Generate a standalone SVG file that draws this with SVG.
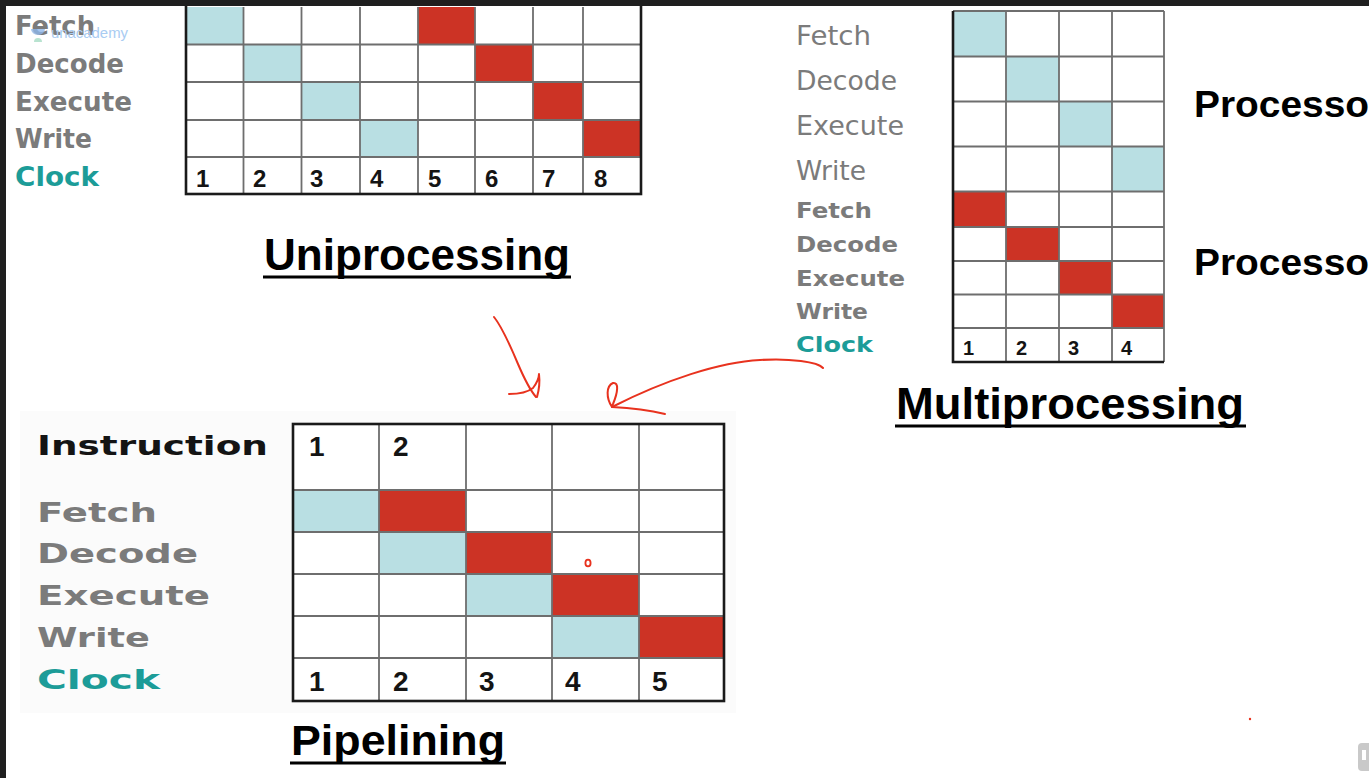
<svg xmlns="http://www.w3.org/2000/svg" width="1369" height="778" viewBox="0 0 1369 778">
<style>
.bg{fill:#ffffff}
.frame{fill:#1f1f1f}
.blue{fill:#b9dfe3}
.red{fill:#cc3325}
.grid{fill:none;stroke:#6e6e6e;stroke-width:1.8}
.border{fill:none;stroke:#1a1a1a;stroke-width:2.6}
.lab{font-family:"DejaVu Sans",Verdana,sans-serif;font-weight:bold;fill:#7b7b7b}
.labr{font-family:"DejaVu Sans",Verdana,sans-serif;font-weight:normal;fill:#7b7b7b}
.clk{fill:#1c9c98}
.blk{fill:#141414}
.num{font-family:"Liberation Sans",Arial,sans-serif;font-weight:bold;fill:#141414}
.title{font-family:"Liberation Sans",Arial,sans-serif;font-weight:bold;fill:#000000}
.ul{stroke:#000000;stroke-width:3}
.ink{fill:none;stroke:#e8321e;stroke-width:2;stroke-linecap:round;stroke-linejoin:round}
</style>
<rect class="bg" x="0" y="0" width="1369" height="778"/>
<rect x="20" y="411" width="716" height="302" fill="#fbfbfb"/>

<g id="uniprocessing">
  <rect class="blue" x="186" y="7" width="57.5" height="37.5"/>
  <rect class="blue" x="243.5" y="44.5" width="58" height="37.5"/>
  <rect class="blue" x="301.5" y="82" width="58.5" height="38"/>
  <rect class="blue" x="360" y="120" width="58" height="37"/>
  <rect class="red" x="418" y="7" width="57" height="37.5"/>
  <rect class="red" x="475" y="44.5" width="58" height="37.5"/>
  <rect class="red" x="533" y="82" width="50" height="38"/>
  <rect class="red" x="583" y="120" width="58" height="37"/>
  <path class="grid" d="M243.5,7V194M301.5,7V194M360,7V194M418,7V194M475,7V194M533,7V194M583,7V194M186,44.5H641M186,82H641M186,120H641M186,157H641"/>
  <rect class="border" x="186" y="4" width="455" height="190"/>
  <text class="lab" x="15" y="35" font-size="26" textLength="80" lengthAdjust="spacingAndGlyphs">Fetch</text>
  <text class="lab" x="15" y="73" font-size="26" textLength="109" lengthAdjust="spacingAndGlyphs">Decode</text>
  <text class="lab" x="15" y="111" font-size="26" textLength="117" lengthAdjust="spacingAndGlyphs">Execute</text>
  <text class="lab" x="15" y="148" font-size="26" textLength="77" lengthAdjust="spacingAndGlyphs">Write</text>
  <text class="lab clk" x="15" y="186" font-size="26" textLength="84" lengthAdjust="spacingAndGlyphs">Clock</text>
  <g class="num" font-size="24">
    <text x="196" y="187">1</text><text x="253" y="187">2</text><text x="310" y="187">3</text><text x="370" y="187">4</text>
    <text x="428" y="187">5</text><text x="485" y="187">6</text><text x="542" y="187">7</text><text x="594" y="187">8</text>
  </g>
  <text class="title" x="264" y="270" font-size="45" textLength="306" lengthAdjust="spacingAndGlyphs">Uniprocessing</text>
  <line class="ul" x1="263" y1="277" x2="571" y2="277"/>
</g>

<g id="multiprocessing">
  <rect class="blue" x="953" y="11" width="53" height="45.5"/>
  <rect class="blue" x="1006" y="56.5" width="53" height="45"/>
  <rect class="blue" x="1059" y="101.5" width="53" height="45"/>
  <rect class="blue" x="1112" y="146.5" width="52" height="45"/>
  <rect class="red" x="953" y="191.5" width="53" height="35.5"/>
  <rect class="red" x="1006" y="227" width="53" height="34"/>
  <rect class="red" x="1059" y="261" width="53" height="33.5"/>
  <rect class="red" x="1112" y="294.5" width="52" height="33.5"/>
  <path class="grid" d="M1006,11V362M1059,11V362M1112,11V362M953,11H1164M953,56.5H1164M953,101.5H1164M953,146.5H1164M953,191.5H1164M953,227H1164M953,261H1164M953,294.5H1164M953,328H1164M1164,11V362"/>
  <path class="border" d="M953,11V362H1164"/>
  <text class="labr" x="796" y="45" font-size="27" textLength="75" lengthAdjust="spacingAndGlyphs">Fetch</text>
  <text class="labr" x="796" y="90" font-size="27" textLength="101" lengthAdjust="spacingAndGlyphs">Decode</text>
  <text class="labr" x="796" y="135" font-size="27" textLength="108" lengthAdjust="spacingAndGlyphs">Execute</text>
  <text class="labr" x="796" y="180" font-size="27" textLength="70" lengthAdjust="spacingAndGlyphs">Write</text>
  <text class="lab" x="796" y="218" font-size="21" textLength="76" lengthAdjust="spacingAndGlyphs">Fetch</text>
  <text class="lab" x="796" y="252" font-size="21" textLength="102" lengthAdjust="spacingAndGlyphs">Decode</text>
  <text class="lab" x="796" y="286" font-size="21" textLength="109" lengthAdjust="spacingAndGlyphs">Execute</text>
  <text class="lab" x="796" y="319" font-size="21" textLength="72" lengthAdjust="spacingAndGlyphs">Write</text>
  <text class="lab clk" x="796" y="352" font-size="21" textLength="77" lengthAdjust="spacingAndGlyphs">Clock</text>
  <g class="num" font-size="20">
    <text x="963" y="355">1</text><text x="1016" y="355">2</text><text x="1068" y="355">3</text><text x="1121" y="355">4</text>
  </g>
  <text class="title" x="1194" y="117" font-size="36" textLength="175" lengthAdjust="spacingAndGlyphs">Processo</text>
  <text class="title" x="1194" y="275" font-size="36" textLength="175" lengthAdjust="spacingAndGlyphs">Processo</text>
  <text class="title" x="896" y="419" font-size="44" textLength="348" lengthAdjust="spacingAndGlyphs">Multiprocessing</text>
  <line class="ul" x1="895" y1="426" x2="1246" y2="426"/>
</g>

<g id="pipelining">
  <rect x="293" y="424" width="431" height="277" fill="#ffffff"/>
  <rect class="blue" x="293" y="490" width="86" height="42"/>
  <rect class="blue" x="379" y="532" width="87" height="42"/>
  <rect class="blue" x="466" y="574" width="86" height="42"/>
  <rect class="blue" x="552" y="616" width="87" height="42"/>
  <rect class="red" x="379" y="490" width="87" height="42"/>
  <rect class="red" x="466" y="532" width="86" height="42"/>
  <rect class="red" x="552" y="574" width="87" height="42"/>
  <rect class="red" x="639" y="616" width="85" height="42"/>
  <path class="grid" d="M379,424V701M466,424V701M552,424V701M639,424V701M293,490H724M293,532H724M293,574H724M293,616H724M293,658H724"/>
  <rect class="border" x="293" y="424" width="431" height="277"/>
  <text class="lab blk" x="37" y="455" font-size="27" textLength="231" lengthAdjust="spacingAndGlyphs">Instruction</text>
  <text class="lab" x="37" y="522" font-size="27" textLength="120" lengthAdjust="spacingAndGlyphs">Fetch</text>
  <text class="lab" x="37" y="563" font-size="27" textLength="161" lengthAdjust="spacingAndGlyphs">Decode</text>
  <text class="lab" x="37" y="605" font-size="27" textLength="173" lengthAdjust="spacingAndGlyphs">Execute</text>
  <text class="lab" x="37" y="647" font-size="27" textLength="113" lengthAdjust="spacingAndGlyphs">Write</text>
  <text class="lab clk" x="37" y="689" font-size="27" textLength="123" lengthAdjust="spacingAndGlyphs">Clock</text>
  <g class="num" font-size="28">
    <text x="309" y="456">1</text><text x="393" y="456">2</text>
    <text x="309" y="691">1</text><text x="393" y="691">2</text><text x="479" y="691">3</text><text x="565" y="691">4</text><text x="652" y="691">5</text>
  </g>
  <text class="title" x="291" y="755" font-size="42" textLength="214" lengthAdjust="spacingAndGlyphs">Pipelining</text>
  <line class="ul" x1="290" y1="763" x2="506" y2="763"/>
</g>

<g id="connectors">
  <path class="ink" d="M494,317C502,327 510,345 518,364C524,378 530,390 536,397"/>
  <path class="ink" d="M509,394C518,394 528,392 533,388C536,384 539,378 539,374C540,382 539,390 537,397"/>
  <path class="ink" d="M823,368C818,362 790,358 760,360C720,362 665,380 612,407"/>
  <path class="ink" d="M612,407C606,398 606,386 613,383C619,382 618,392 613,404C612,406 612,407 612,407C630,408 648,410 665,414"/>
  <ellipse cx="588" cy="563" rx="2.6" ry="3.4" fill="none" stroke="#e8321e" stroke-width="1.8"/>
  <circle cx="1250" cy="719" r="1.2" fill="#e8321e"/>
</g>

<g id="watermark">
  <path d="M31,29A7,6 0 0 0 45,29Z" fill="#8fb6ea" opacity="0.8"/>
  <path d="M34,42A4,4 0 0 1 42,42Z" fill="#a6dcc4" opacity="0.8"/>
  <text x="51" y="38" font-family="'Liberation Sans',Arial,sans-serif" font-size="15" fill="#a9ccf2" textLength="77" lengthAdjust="spacingAndGlyphs">unacademy</text>
</g>

<rect x="1358" y="743" width="16" height="28" rx="4" fill="#c9c9c9"/>
<rect x="1362" y="750" width="4" height="10" fill="#ffffff"/>
<rect class="frame" x="0" y="0" width="1369" height="6"/>
<rect class="frame" x="0" y="0" width="6" height="778"/>
</svg>
